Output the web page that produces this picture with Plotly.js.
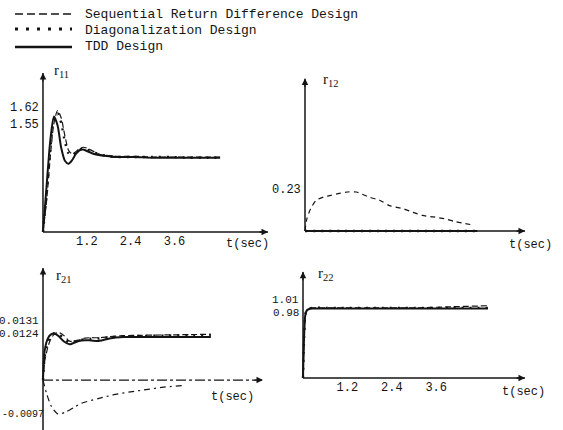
<!DOCTYPE html>
<html><head><meta charset="utf-8">
<script src="https://cdn.plot.ly/plotly-3.0.1.min.js"></script>
<style>html,body{margin:0;padding:0;background:#fff}#plot{width:563px;height:430px}</style>
</head><body><div id="plot"></div>
<script>
// ---- data ----
const seriesNames = ['Sequential Return Difference Design', 'Diagonalization Design', 'TDD Design'];
const tickVals = [1.2, 2.4, 3.6];
const tickText = ['1.2', '2.4', '3.6'];

// r11
const t11 = [0, 0.1, 0.2, 0.3, 0.4, 0.5, 0.6, 0.7, 0.8, 0.9, 1.0, 1.1, 1.2, 1.4, 1.6, 1.8, 2.0, 2.5, 3.0, 3.5, 4.0, 4.5, 4.85];
const r11_seq  = [0, 0.42, 1.0, 1.45, 1.62, 1.52, 1.28, 1.09, 1.04, 1.07, 1.11, 1.13, 1.12, 1.07, 1.03, 1.02, 1.01, 1.01, 1.0, 1.0, 1.0, 1.0, 1.0];
const r11_diag = [0, 0.5, 1.1, 1.5, 1.58, 1.45, 1.2, 1.05, 1.02, 1.06, 1.1, 1.11, 1.1, 1.06, 1.03, 1.01, 1.0, 1.0, 1.0, 1.0, 0.99, 0.99, 0.99];
const r11_tdd  = [0, 0.62, 1.22, 1.54, 1.42, 1.12, 0.95, 0.91, 0.96, 1.04, 1.09, 1.10, 1.08, 1.04, 1.02, 1.01, 1.0, 1.0, 0.99, 0.99, 0.99, 0.99, 0.99];
const r11_labels = ['1.62', '1.55'];
const r11_labelVals = [1.62, 1.55];

// r12
const t12_seq = [0, 0.05, 0.15, 0.3, 0.5, 0.7, 0.9, 1.15, 1.4, 1.75, 2.05, 2.3, 2.7, 2.95, 3.2, 3.5, 3.8, 4.1, 4.6];
const r12_seq = [0, 0.07, 0.13, 0.18, 0.2, 0.21, 0.22, 0.23, 0.23, 0.2, 0.18, 0.15, 0.13, 0.11, 0.092, 0.083, 0.073, 0.055, 0.035];
const t12 = [0, 1, 2, 3, 4, 4.7];
const r12_diag = [0, 0, 0, 0, 0, 0];
const r12_tdd  = [0, 0, 0, 0, 0, 0];
const r12_labels = ['0.23'];
const r12_labelVals = [0.23];

// r21
const t21 = [0, 0.05, 0.14, 0.22, 0.33, 0.45, 0.6, 0.76, 1.0, 1.2, 1.38, 1.62, 1.9, 2.3, 2.8, 3.5, 4.2, 4.8];
const r21_seq  = [0, 0.0055, 0.0095, 0.0118, 0.0133, 0.0137, 0.0128, 0.0112, 0.0115, 0.0121, 0.0122, 0.0122, 0.0125, 0.0128, 0.0129, 0.0130, 0.0131, 0.0132];
const r21_diag = [0, 0.007, 0.011, 0.0125, 0.0135, 0.0132, 0.012, 0.0108, 0.0114, 0.0118, 0.0119, 0.012, 0.0123, 0.0126, 0.0127, 0.0128, 0.0129, 0.0130];
const r21_tdd  = [0, 0.0086, 0.012, 0.0131, 0.0134, 0.0126, 0.0111, 0.0103, 0.0112, 0.0115, 0.0114, 0.0113, 0.0120, 0.0124, 0.0124, 0.0124, 0.0124, 0.0124];
const t21_neg = [0, 0.1, 0.24, 0.43, 0.65, 0.9, 1.1, 1.6, 2.0, 2.5, 3.0, 3.4, 4.0];
const r21_neg = [0, -0.0038, -0.0076, -0.0098, -0.0092, -0.0078, -0.0067, -0.0053, -0.0043, -0.0034, -0.0027, -0.0021, -0.0016];
const r21_labels = ['0.0131', '0.0124', '-0.0097'];
const r21_labelVals = [0.0131, 0.0124, -0.0097];

// r22
const t22 = [0, 0.03, 0.06, 0.1, 0.15, 0.25, 0.5, 1.0, 2.0, 3.0, 4.0, 5.0];
const r22_seq  = [0, 0.55, 0.88, 0.97, 1.0, 1.01, 1.01, 1.01, 1.01, 1.01, 1.025, 1.04];
const r22_diag = [0, 0.58, 0.9, 0.98, 1.0, 1.01, 1.01, 1.01, 1.01, 1.01, 1.01, 1.01];
const r22_tdd  = [0, 0.6, 0.9, 0.97, 0.99, 1.0, 1.0, 1.0, 1.0, 1.0, 1.0, 1.0];
const r22_labels = ['1.01', '0.98'];
const r22_labelVals = [1.01, 0.98];

// ---- styling ----
const INK = '#141414';
const MONO = 'Liberation Mono, DejaVu Sans Mono, monospace';
const W = 563, H = 430;
const styles = [
  {dash: '6px,3px', width: 1.2, legDash: '8px,4px', legWidth: 1.6},
  {dash: '2px,6px', width: 2.4, legDash: '3px,8px', legWidth: 3},
  {dash: 'solid', width: 2.0, legDash: 'solid', legWidth: 2.6}
];

function tr(x, y, s, ax, dashOverride) {
  const st = styles[s];
  return {
    type: 'scatter', mode: 'lines', x: x, y: y,
    xaxis: 'x' + (ax === 1 ? '' : ax), yaxis: 'y' + (ax === 1 ? '' : ax),
    name: seriesNames[s], showlegend: false,
    line: {color: INK, width: st.width, dash: dashOverride || st.dash, shape: 'spline', smoothing: 0.7},
    hoverinfo: 'skip'
  };
}

const data = [
  tr(t11, r11_seq, 0, 1), tr(t11, r11_diag, 1, 1), tr(t11, r11_tdd, 2, 1),
  tr(t12_seq, r12_seq, 0, 2, '5px,4px'), tr(t12, r12_tdd, 2, 2), tr(t12, r12_diag, 1, 2),
  tr(t21, r21_seq, 0, 3), tr(t21, r21_diag, 1, 3), tr(t21, r21_tdd, 2, 3),
  tr(t21_neg, r21_neg, 0, 3, '6px,4px,2px,4px'),
  tr(t22, r22_seq, 0, 4), tr(t22, r22_diag, 1, 4), tr(t22, r22_tdd, 2, 4)
];

const panels = [
  {ax: '', xmax: 6.16, ymin: 0, ymax: 2.12, labels: r11_labels, vals: r11_labelVals, shifts: [3, -9], lsize: [12, 12], title: 'r<sub>11</sub>', tpos: [52, 71], tsec: [247, 244]},
  {ax: '2', xmax: 6.0, ymin: 0, ymax: 0.9, labels: r12_labels, vals: r12_labelVals, shifts: [2], lsize: [12], title: 'r<sub>12</sub>', tpos: [321, 80], tsec: [530, 245]},
  {ax: '3', xmax: 6.29, ymin: -0.0144, ymax: 0.0323, labels: r21_labels, vals: r21_labelVals, shifts: [13.5, 3, -1], lsize: [11, 11, 10], title: 'r<sub>21</sub>', tpos: [54, 276], tsec: [232, 397]},
  {ax: '4', xmax: 6.0, ymin: 0, ymax: 1.53, labels: r22_labels, vals: r22_labelVals, shifts: [8, -3], lsize: [11, 11], title: 'r<sub>22</sub>', tpos: [316, 274], tsec: [523, 392]}
];

const shapes = [];
const annotations = [];
panels.forEach((p, i) => {
  const xref = 'x' + p.ax, yref = 'y' + p.ax;
  shapes.push({type: 'line', xref: xref, yref: yref, x0: 0, x1: p.xmax, y0: 0, y1: 0,
    line: {color: INK, width: 1.3, dash: i === 2 ? '10px,3px,3px,3px' : 'solid'}});
  shapes.push({type: 'line', xref: xref, yref: yref, x0: 0, x1: 0, y0: p.ymin, y1: p.ymax,
    line: {color: INK, width: 1.5}});
  annotations.push({xref: xref, yref: yref, x: p.xmax, y: 0, ax: -10, ay: 0, text: '', showarrow: true,
    arrowhead: 2, arrowsize: 1, arrowwidth: 1.3, arrowcolor: INK});
  annotations.push({xref: xref, yref: yref, x: 0, y: p.ymax, ax: 0, ay: 10, text: '', showarrow: true,
    arrowhead: 2, arrowsize: 1, arrowwidth: 1.3, arrowcolor: INK});
  p.labels.forEach((lab, k) => {
    const neg = lab.charAt(0) === '-';
    annotations.push(neg ?
      {xref: 'paper', yref: yref, x: 0, y: p.vals[k], xanchor: 'left', yanchor: 'middle',
       yshift: p.shifts[k], text: lab, showarrow: false, font: {family: MONO, size: p.lsize[k], color: INK}} :
      {xref: xref, yref: yref, x: 0, y: p.vals[k], xanchor: 'right', yanchor: 'middle',
       xshift: -2, yshift: p.shifts[k], text: lab, showarrow: false, font: {family: MONO, size: p.lsize[k], color: INK}});
  });
  annotations.push({xref: 'paper', yref: 'paper', x: p.tpos[0] / W, y: 1 - p.tpos[1] / H, xanchor: 'left', yanchor: 'middle',
    text: p.title, showarrow: false, font: {family: 'Liberation Serif, serif', size: 15, color: INK}});
  annotations.push({xref: 'paper', yref: 'paper', x: p.tsec[0] / W, y: 1 - p.tsec[1] / H, xanchor: 'center', yanchor: 'middle',
    text: 't(sec)', showarrow: false, font: {family: MONO, size: 12, color: INK}});
});

// legend (drawn in paper space)
const legLineY = [14, 29, 47];
const legTextY = [14, 30, 46];
seriesNames.forEach((nm, s) => {
  shapes.push({type: 'line', xref: 'paper', yref: 'paper', x0: 15 / W, x1: 72 / W,
    y0: 1 - legLineY[s] / H, y1: 1 - legLineY[s] / H,
    line: {color: INK, width: styles[s].legWidth, dash: styles[s].legDash}});
  annotations.push({xref: 'paper', yref: 'paper', x: 83 / W, y: 1 - legTextY[s] / H, xanchor: 'left', yanchor: 'middle',
    text: nm, showarrow: false, font: {family: MONO, size: 13, color: INK}});
});

function xa(domain, range, pos, labels) {
  return {domain: domain, range: range, anchor: 'free', position: pos, showgrid: false, zeroline: false, showline: false,
    ticks: '', tickvals: labels ? tickVals : [], ticktext: labels ? tickText : [], showticklabels: !!labels,
    tickfont: {family: MONO, size: 12, color: INK}, fixedrange: true};
}
function ya(domain, range, anchor) {
  return {domain: domain, range: range, anchor: anchor, visible: false, showgrid: false, zeroline: false, fixedrange: true};
}

const layout = {
  width: W, height: H,
  margin: {l: 0, r: 0, t: 0, b: 0},
  paper_bgcolor: '#fff', plot_bgcolor: 'rgba(0,0,0,0)',
  showlegend: false,
  xaxis:  xa([37.5 / W, 268 / W], [-0.15, 6.16], 1 - 232 / H, true),
  yaxis:  ya([1 - 239.5 / H, 1 - 73 / H], [-0.1, 2.12], 'x'),
  xaxis2: xa([299.5 / W, 525 / W], [-0.15, 6.0], 1 - 231 / H, false),
  yaxis2: ya([1 - 237.8 / H, 1 - 78.4 / H], [-0.04, 0.9], 'x2'),
  xaxis3: xa([37.75 / W, 263 / W], [-0.15, 6.29], 1 - 380 / H, false),
  yaxis3: ya([0, 1 - 268 / H], [-0.0144, 0.0323], 'x3'),
  xaxis4: xa([297.45 / W, 525 / W], [-0.15, 6.0], 1 - 378 / H, true),
  yaxis4: ya([1 - 384.95 / H, 1 - 271.7 / H], [-0.1, 1.53], 'x4'),
  shapes: shapes,
  annotations: annotations
};

Plotly.newPlot('plot', data, layout, {staticPlot: true, displayModeBar: false});
</script>
</body></html>
